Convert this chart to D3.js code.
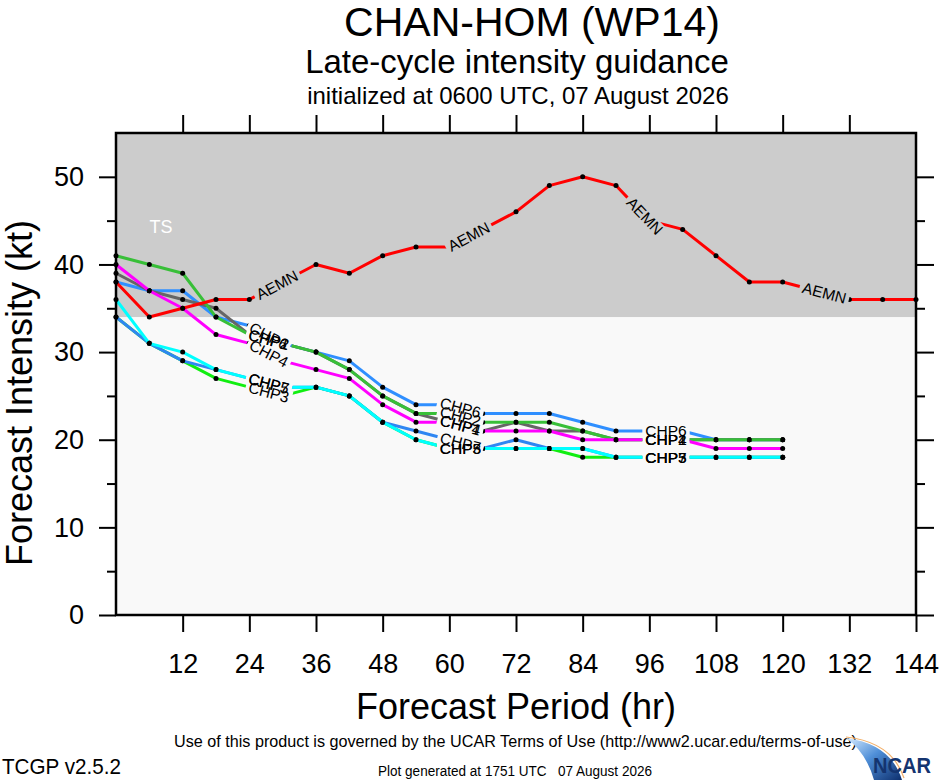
<!DOCTYPE html>
<html>
<head>
<meta charset="utf-8">
<script src="https://cdn.jsdelivr.net/npm/d3@7"></script>
<style>
  body { margin: 0; background: #fff; }
  text { font-family: "Liberation Sans", Arial, Helvetica, sans-serif; }
  .narrow { font-family: "Liberation Sans Narrow", "Liberation Sans", Arial, sans-serif; }
</style>
</head>
<body>
<div id="chart"></div>
<script>
/* Late-cycle intensity guidance for CHAN-HOM (WP14) */

// forecast hours
const chpHours  = [0, 6, 12, 18, 24, 30, 36, 42, 48, 54, 60, 66, 72, 78, 84, 90, 96, 102, 108, 114, 120];
const aemnHours = [0, 6, 12, 18, 24, 30, 36, 42, 48, 54, 60, 66, 72, 78, 84, 90, 96, 102, 108, 114, 120, 126, 132, 138, 144];

// intensity (kt)
const aemn = [38, 34, 35, 36, 36, 38, 40, 39, 41, 42, 42, 44, 46, 49, 50, 49, 45, 44, 41, 38, 38, 37, 36, 36, 36];
const chp1 = [39, 37, 36, 35, 32, 31, 30, 28, 25, 23, 22, 21, 22, 21, 21, 20, 20, 20, 20, 20, 20];
const chp2 = [41, 40, 39, 34, 32, 31, 30, 28, 25, 23, 23, 22, 22, 22, 21, 20, 20, 20, 20, 20, 20];
const chp3 = [34, 31, 29, 27, 26, 25, 26, 25, 22, 20, 19, 19, 19, 19, 18, 18, 18, 18, 18, 18, 18];
const chp4 = [40, 37, 35, 32, 31, 29, 28, 27, 24, 22, 22, 21, 21, 21, 20, 20, 20, 20, 19, 19, 19];
const chp5 = [36, 31, 30, 28, 27, 26, 26, 25, 22, 20, 19, 19, 19, 19, 19, 18, 18, 18, 18, 18, 18];
const chp6 = [38, 37, 37, 34, 33, 31, 30, 29, 26, 24, 24, 23, 23, 23, 22, 21, 21, 21, 20, 20, 20];
const chp7 = [34, 31, 29, 28, 27, 26, 26, 25, 22, 21, 20, 19, 20, 19, 19, 18, 18, 18, 18, 18, 18];

// axis ticks
const xTicks = [12, 24, 36, 48, 60, 72, 84, 96, 108, 120, 132, 144];
const yTicks = [0, 10, 20, 30, 40, 50];
const yMinor = [5, 15, 25, 35, 45];
const tsThreshold = 34;

const width = 940, height = 780;
const plot = { left: 116, right: 916, top: 133, bottom: 615 };

const svg = d3.select("#chart")
  .append("svg")
  .attr("width", width)
  .attr("height", height);
const defs = svg.append("defs");

const x = d3.scaleLinear().domain([0, 144]).range([plot.left, plot.right]);
const y = d3.scaleLinear().domain([0, 55]).range([plot.bottom, plot.top]);

// backgrounds
svg.append("rect")
  .attr("x", plot.left).attr("y", y(tsThreshold))
  .attr("width", plot.right - plot.left).attr("height", y(0) - y(tsThreshold))
  .attr("fill", "#f9f9f9");
svg.append("rect")
  .attr("x", plot.left).attr("y", y(55))
  .attr("width", plot.right - plot.left).attr("height", y(tsThreshold) - y(55))
  .attr("fill", "#cccccc");
svg.append("text")
  .attr("x", 161).attr("y", 233)
  .attr("text-anchor", "middle")
  .attr("font-size", 18)
  .attr("fill", "#fff")
  .text("TS");

// series (drawing order)
const series = [
  { name: "CHP6", hours: chpHours, values: chp6, color: "#2f8fff", labelAt: [27.5, 62, 99] },
  { name: "CHP1", hours: chpHours, values: chp1, color: "#666666", labelAt: [27.5, 62, 99] },
  { name: "CHP2", hours: chpHours, values: chp2, color: "#38bf38", labelAt: [27.5, 62, 99] },
  { name: "CHP3", hours: chpHours, values: chp3, color: "#11ee11", labelAt: [27.5, 62, 99] },
  { name: "CHP7", hours: chpHours, values: chp7, color: "#2f86f2", labelAt: [27.5, 62, 99] },
  { name: "CHP5", hours: chpHours, values: chp5, color: "#00ffff", labelAt: [27.5, 62, 99] },
  { name: "CHP4", hours: chpHours, values: chp4, color: "#ff00ff", labelAt: [27.5, 62, 99] },
  { name: "AEMN", hours: aemnHours, values: aemn, color: "#ff0000", labelAt: [29, 63.5, 95.2, 127.5] }
];

// position and angle on the line at a given hour
function pointAt(s, h) {
  const i = Math.min(d3.bisectRight(s.hours, h) - 1, s.hours.length - 2);
  const x0 = x(s.hours[i]), x1 = x(s.hours[i + 1]);
  const y0 = y(s.values[i]), y1 = y(s.values[i + 1]);
  const t = (h - s.hours[i]) / (s.hours[i + 1] - s.hours[i]);
  return { px: x0 + (x1 - x0) * t, py: y0 + (y1 - y0) * t, angle: Math.atan2(y1 - y0, x1 - x0) * 180 / Math.PI };
}

const line = d3.line()
  .x(d => x(d.h))
  .y(d => y(d.v));

const lineLayer = svg.append("g");
const labelLayer = svg.append("g");

for (let s of series) {
  const pts = s.hours.map((h, i) => ({ h: h, v: s.values[i] }));

  // labels first so their size is known for the gaps
  const mask = defs.append("mask")
    .attr("id", "gap-" + s.name)
    .attr("maskUnits", "userSpaceOnUse")
    .attr("x", 0).attr("y", 0).attr("width", width).attr("height", height);
  mask.append("rect").attr("width", width).attr("height", height).attr("fill", "#fff");

  for (let h of s.labelAt) {
    const p = pointAt(s, h);
    const t = labelLayer.append("text")
      .attr("transform", `translate(${p.px},${p.py}) rotate(${p.angle})`)
      .attr("text-anchor", "middle")
      .attr("dominant-baseline", "central")
      .attr("font-size", 15.5)
      .attr("fill", "#000")
      .text(s.name);
    const w = t.node().getComputedTextLength();
    mask.append("rect")
      .attr("x", -w / 2 - 3).attr("y", -7)
      .attr("width", w + 6).attr("height", 14)
      .attr("fill", "#000")
      .attr("transform", `translate(${p.px},${p.py}) rotate(${p.angle})`);
  }

  const g = lineLayer.append("g").attr("mask", `url(#gap-${s.name})`);
  g.append("path")
    .datum(pts)
    .attr("d", line)
    .attr("fill", "none")
    .attr("stroke", s.color)
    .attr("stroke-width", 3)
    .attr("stroke-linejoin", "round");
  g.selectAll("circle")
    .data(pts)
    .join("circle")
    .attr("cx", d => x(d.h))
    .attr("cy", d => y(d.v))
    .attr("r", 2.5)
    .attr("fill", "#000");
}

// axes
const styleAxis = g => {
  g.select(".domain").remove();
  g.selectAll(".tick line").attr("stroke", "#000").attr("stroke-width", 2);
  g.selectAll(".tick text").attr("font-family", "Liberation Sans, Arial, sans-serif").attr("fill", "#000");
};

svg.append("g")
  .attr("transform", `translate(0,${plot.bottom})`)
  .call(d3.axisBottom(x).tickValues(xTicks).tickSize(17).tickPadding(22))
  .call(styleAxis)
  .call(g => g.selectAll(".tick text").attr("font-size", 27));

svg.append("g")
  .attr("transform", `translate(0,${plot.top})`)
  .call(d3.axisTop(x).tickValues(xTicks.slice(0, -1)).tickSize(18).tickFormat(""))
  .call(styleAxis);

svg.append("g")
  .attr("transform", `translate(${plot.left},0)`)
  .call(d3.axisLeft(y).tickValues(yTicks).tickSize(17).tickPadding(15))
  .call(styleAxis)
  .call(g => g.selectAll(".tick text").attr("font-size", 27));

svg.append("g")
  .attr("transform", `translate(${plot.left},0)`)
  .call(d3.axisLeft(y).tickValues(yMinor).tickSize(9).tickFormat(""))
  .call(styleAxis);

svg.append("g")
  .attr("transform", `translate(${plot.right},0)`)
  .call(d3.axisRight(y).tickValues(yTicks).tickSize(18).tickFormat(""))
  .call(styleAxis);

svg.append("g")
  .attr("transform", `translate(${plot.right},0)`)
  .call(d3.axisRight(y).tickValues(yMinor).tickSize(9).tickFormat(""))
  .call(styleAxis);

// frame
svg.append("rect")
  .attr("x", plot.left).attr("y", plot.top)
  .attr("width", plot.right - plot.left).attr("height", plot.bottom - plot.top)
  .attr("fill", "none")
  .attr("stroke", "#000")
  .attr("stroke-width", 2.5);

// titles
svg.append("text")
  .attr("x", 532).attr("y", 36)
  .attr("text-anchor", "middle")
  .attr("font-size", 41)
  .text("CHAN-HOM (WP14)");
svg.append("text")
  .attr("x", 517).attr("y", 73)
  .attr("text-anchor", "middle")
  .attr("font-size", 33)
  .text("Late-cycle intensity guidance");
svg.append("text")
  .attr("x", 518).attr("y", 104)
  .attr("text-anchor", "middle")
  .attr("font-size", 24)
  .text("initialized at 0600 UTC, 07 August 2026");

svg.append("text")
  .attr("x", 516).attr("y", 719)
  .attr("text-anchor", "middle")
  .attr("font-size", 36)
  .text("Forecast Period (hr)");
svg.append("text")
  .attr("transform", "translate(32,393) rotate(-90)")
  .attr("text-anchor", "middle")
  .attr("font-size", 36)
  .text("Forecast Intensity (kt)");

// footer
svg.append("text")
  .attr("class", "narrow")
  .attr("x", 174).attr("y", 747)
  .attr("font-size", 17)
  .attr("textLength", 683)
  .attr("lengthAdjust", "spacingAndGlyphs")
  .text("Use of this product is governed by the UCAR Terms of Use (http://www2.ucar.edu/terms-of-use)");
svg.append("text")
  .attr("class", "narrow")
  .attr("x", 2).attr("y", 774)
  .attr("font-size", 22)
  .attr("textLength", 119)
  .attr("lengthAdjust", "spacingAndGlyphs")
  .text("TCGP v2.5.2");
svg.append("text")
  .attr("class", "narrow")
  .attr("x", 378).attr("y", 776)
  .attr("font-size", 14)
  .attr("textLength", 274)
  .attr("lengthAdjust", "spacingAndGlyphs")
  .style("white-space", "pre")
  .text("Plot generated at 1751 UTC   07 August 2026");

// NCAR logo
const grad = defs.append("linearGradient")
  .attr("id", "swoosh")
  .attr("x1", 0).attr("y1", 0).attr("x2", 1).attr("y2", 1);
grad.append("stop").attr("offset", "0%").attr("stop-color", "#d8ecff");
grad.append("stop").attr("offset", "45%").attr("stop-color", "#4f8fd8");
grad.append("stop").attr("offset", "100%").attr("stop-color", "#0d2f6e");
svg.append("path")
  .attr("d", "M846,738 Q891,744 902,780 L874,780 Q866,752 846,738 Z")
  .attr("fill", "url(#swoosh)");
svg.append("path")
  .attr("d", "M846,737 Q892,742 904,778")
  .attr("fill", "none")
  .attr("stroke", "#f3b06a")
  .attr("stroke-width", 1.2);
svg.append("text")
  .attr("x", 873).attr("y", 773)
  .attr("font-size", 22)
  .attr("font-weight", "bold")
  .attr("textLength", 58)
  .attr("lengthAdjust", "spacingAndGlyphs")
  .attr("fill", "#14346f")
  .text("NCAR");
</script>
</body>
</html>
